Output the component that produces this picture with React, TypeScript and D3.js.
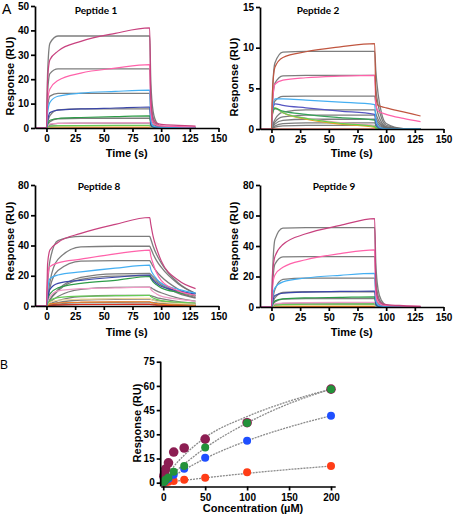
import React, { useEffect, useRef } from "react";
import * as d3 from "d3";

// sampling times (s) shared by every sensorgram trace
const times = [-10, 0, 1, 3, 10, 30, 60, 90, 91, 93, 96, 100, 115, 130];
const timeTicks = [0, 25, 50, 75, 100, 125, 150];

// trace colours, highest concentration first (200 µM down to 0)
const traceColors = ["#c8427f", "#ff62aa", "#45aff2", "#3a46a8", "#2e9c48", "#ee9cc6", "#66cc55", "#efd79c", "#f07e22", "#e0301e"];
const pep2Colors = ["#c0553f", "#ff62aa", "#45aff2", "#5656c2", "#38a25a", "#62d24e", "#f29ac0", "#f0a024", "#e0301e"];

// Peptide 1 measured responses (RU) at each sampling time
const p1Traces = [
  [0, 0, 20, 28, 31.5, 35.5, 38.8, 41, 12, 3.5, 2, 1.5, 1.1, 0.8],
  [0, 0, 11, 16, 19.5, 22.5, 24.5, 26, 7, 2, 1.2, 0.9, 0.6, 0.5],
  [0, 0, 6, 10.5, 13, 14.3, 15, 15.5, 3, 0.8, 0.4, 0.25, 0.15, 0.1],
  [0, 0, 3, 6.3, 7.3, 7.8, 8.2, 8.6, 1.5, 0.5, 0.2, 0.1, 0.05, 0],
  [0, 0, 1.5, 3.2, 3.9, 4.3, 4.7, 5, 1, 0.3, 0.1, 0.05, 0, 0],
  [0, 0, 0.8, 1.7, 1.9, 2, 2.1, 2.2, 0.5, 0.2, 0.1, 0, 0, 0],
  [0, 0, 0.4, 0.8, 0.95, 1, 1.05, 1.1, 0.3, 0.1, 0, 0, 0, 0],
  [0, 0, 0.2, 0.4, 0.5, 0.55, 0.6, 0.6, 0.1, 0, 0, 0, 0, 0],
  [0, 0, 0.1, 0.2, 0.25, 0.3, 0.3, 0.3, 0.05, 0, 0, 0, 0, 0],
  [0, 0, 0, 0.05, 0.1, 0.1, 0.1, 0.1, 0, 0, 0, 0, 0, 0],
];
// fitted plateau levels and the fit profile each one follows
const p1Fits = [37.7, 24.2, 14.2, 7.8, 4.0, 2.0, 1.0, 0.5];
const p1FitShape = [0, 0, 0, 1, 1, 1, 1, 1];
const p1Profiles = [
  [0, 0, 0.6, 0.92, 1, 1, 1, 1, 0.5, 0.18, 0.06, 0.02, 0.002, 0],
  [0, 0, 0.3, 0.65, 0.95, 1, 1, 1, 0.6, 0.25, 0.09, 0.03, 0.003, 0],
];

const p2Traces = [
  [0, 0, 5, 7.6, 8.8, 9.5, 10.1, 10.5, 4, 2.9, 2.75, 2.6, 2.1, 1.6],
  [0, 0, 3.5, 5.5, 6.0, 6.3, 6.5, 6.6, 3, 2.2, 2.0, 1.8, 1.3, 0.9],
  [0, 0, 2.5, 3.7, 3.7, 3.55, 3.3, 3.0, 1.2, 0.4, 0.1, 0.03, 0, 0],
  [0, 0, 2.3, 3.1, 2.9, 2.6, 2.2, 1.8, 0.7, 0.2, 0.05, 0, 0, 0],
  [0, 0, 2, 2.5, 2.2, 1.8, 1.4, 1.1, 0.4, 0.1, 0, 0, 0, 0],
  [0, 0, 2, 2.6, 2.0, 1.3, 0.7, 0.3, 0.1, 0, 0, 0, 0, 0],
  [0, 0, 2, 2.5, 2.0, 1.35, 0.8, 0.4, 0.1, 0, 0, 0, 0, 0],
  [0, 0, 2, 2.6, 2.0, 1.2, 0.6, 0.2, 0.05, 0, 0, 0, 0, 0],
  [0, 0, 0, 0, 0, 0, 0, 0, 0, 0, 0, 0, 0, 0],
];
const p2Fits = [9.55, 6.6, 4.05, 2.35, 1.7, 1.2, 0.75, 0.45];
const p2FitShape = [0, 0, 0, 1, 1, 1, 1, 1];
const p2Profiles = [
  [0, 0, 0.5, 0.85, 0.99, 1, 1, 1, 0.75, 0.45, 0.2, 0.07, 0.005, 0],
  [0, 0, 0.2, 0.5, 0.88, 1, 1, 1, 0.8, 0.5, 0.25, 0.1, 0.01, 0],
];

const p8Traces = [
  [0, 0, 28, 37, 42, 48, 54, 58.5, 54, 46, 38, 30, 17, 11.5],
  [0, 0, 18, 26, 28.5, 31, 34.5, 37, 33, 28, 22, 17, 10, 7],
  [0, 0, 10, 18, 20.5, 22.5, 25, 27, 24, 21, 18, 15, 11, 8.5],
  [0, 0, 5, 11, 15, 17, 19, 20.5, 19, 17, 15, 13, 10, 8],
  [0, 0, 4, 8, 12, 15, 17, 19.5, 18, 16, 14, 12, 9, 7],
  [0, 0, 3, 6, 10, 11.5, 12, 12.5, 11, 9.5, 8, 6.5, 4.5, 3],
  [0, 0, 1.5, 3.5, 5.5, 6.5, 6.8, 7, 6.2, 5.3, 4.4, 3.5, 2.5, 2],
  [0, 0, 1, 2.5, 3.8, 4.5, 4.8, 5, 4.4, 3.8, 3.1, 2.5, 1.8, 1.3],
  [0, 0, 0.5, 1.2, 2, 2.5, 2.7, 2.8, 2.4, 2, 1.6, 1.2, 0.7, 0.4],
  [0, 0, 0.2, 0.5, 0.8, 1, 1, 1.1, 0.9, 0.8, 0.6, 0.5, 0.3, 0.2],
];
const p8Fits = [46, 39.5, 30, 21.5, 20, 12.5, 7, 4.5, 2.5, 1.2];
const p8FitShape = [0, 1, 1, 2, 2, 2, 2, 2, 2, 2];
const p8Profiles = [
  [0, 0, 0.3, 0.65, 0.94, 1, 1, 1, 0.96, 0.86, 0.74, 0.62, 0.33, 0.18],
  [0, 0, 0.15, 0.4, 0.78, 0.99, 1, 1, 0.96, 0.87, 0.76, 0.65, 0.37, 0.21],
  [0, 0, 0.07, 0.2, 0.5, 0.88, 0.99, 1, 0.97, 0.9, 0.8, 0.7, 0.42, 0.26],
];

const p9Traces = [
  [0, 0, 22, 33, 41, 48, 53.5, 58, 14, 5, 2.5, 1.6, 0.9, 0.5],
  [0, 0, 14, 21, 26, 31, 35, 37.5, 8, 3, 1.5, 1, 0.6, 0.4],
  [0, 0, 7, 12.5, 16.5, 19, 20.8, 22, 4, 1.2, 0.6, 0.3, 0.15, 0.1],
  [0, 0, 3.5, 7.5, 9, 9.8, 10.2, 10.5, 2, 0.5, 0.2, 0.1, 0, 0],
  [0, 0, 1.5, 4, 5.3, 6, 6.3, 6.6, 1.3, 0.4, 0.1, 0, 0, 0],
  [0, 0, 0.8, 2, 2.6, 2.9, 3, 3.1, 0.6, 0.2, 0, 0, 0, 0],
  [0, 0, 0.5, 1.2, 1.6, 1.8, 1.9, 2, 0.4, 0.1, 0, 0, 0, 0],
  [0, 0, 0.3, 0.7, 0.9, 1, 1.1, 1.1, 0.2, 0, 0, 0, 0, 0],
  [0, 0, 0.1, 0.3, 0.4, 0.4, 0.45, 0.5, 0.1, 0, 0, 0, 0, 0],
  [0, 0, 0, 0.1, 0.15, 0.2, 0.2, 0.2, 0, 0, 0, 0, 0, 0],
];
const p9Fits = [52, 33, 19, 10, 5.5, 2.5, 1.3];
const p9FitShape = [0, 0, 1, 1, 1, 1, 1];
const p9Profiles = [
  [0, 0, 0.45, 0.85, 0.995, 1, 1, 1, 0.55, 0.22, 0.08, 0.025, 0.003, 0],
  [0, 0, 0.25, 0.6, 0.95, 1, 1, 1, 0.6, 0.27, 0.1, 0.03, 0.004, 0],
];

// steady-state responses (RU) against concentration (µM)
const bConc = [0.78, 1.56, 3.125, 6.25, 12.5, 25, 50, 100, 200];
const pep8Resp = [4, 5.5, 8.5, 12.3, 19, 21.5, 27, 37.2, 58];
const pep9Resp = [0.5, 1.1, 2, 3.2, 6.8, 10.4, 21.8, 37, 58];
const pep1Resp = [0.4, 0.8, 1.5, 2.4, 5, 8.6, 15.5, 26, 41.5];
const pep2Resp = [0.1, 0.2, 0.3, 0.6, 1.1, 1.8, 3.1, 6.4, 10.3];

// fitted binding curves
const fitConc = [0, 12.5, 25, 50, 100, 150, 200];
const pep8Fit = [0, 10, 17, 28, 41, 50.5, 58];
const pep9Fit = [0, 6, 11.5, 21.5, 37, 49, 58];
const pep1Fit = [0, 4.2, 8, 15, 26, 34.5, 41.5];
const pep2Fit = [0, 0.8, 1.5, 3, 5.8, 8.2, 10.3];

const concTicks = [0, 50, 100, 150, 200];
const respTicksB = [0, 15, 30, 45, 60, 75];

const FONT = "'Liberation Sans', Arial, sans-serif";
const TITLE_FONT = "Lato, 'Open Sans', sans-serif";

const panels = [
  { title: "Peptide 1", yMax: 50, yStep: 10, traces: p1Traces, fits: p1Fits, fitShape: p1FitShape, profiles: p1Profiles, colors: traceColors,
    left: 35, right: 218.5, top: 6, bottom: 128, titleX: 96, titleY: 13.5, yLabelX: 9.5, yLabelY: 76, xLabelY: 157 },
  { title: "Peptide 2", yMax: 15, yStep: 5, traces: p2Traces, fits: p2Fits, fitShape: p2FitShape, profiles: p2Profiles, colors: pep2Colors,
    left: 260, right: 443.5, top: 7, bottom: 129, titleX: 318, titleY: 13.5, yLabelX: 234, yLabelY: 77, xLabelY: 157 },
  { title: "Peptide 8", yMax: 80, yStep: 20, traces: p8Traces, fits: p8Fits, fitShape: p8FitShape, profiles: p8Profiles, colors: traceColors,
    left: 35, right: 218.5, top: 185, bottom: 306, titleX: 99, titleY: 190, yLabelX: 9.5, yLabelY: 241, xLabelY: 336 },
  { title: "Peptide 9", yMax: 80, yStep: 20, traces: p9Traces, fits: p9Fits, fitShape: p9FitShape, profiles: p9Profiles, colors: traceColors,
    left: 260, right: 443.5, top: 185, bottom: 307, titleX: 334, titleY: 190, yLabelX: 234, yLabelY: 241, xLabelY: 336 },
];

let styleAxis = (g: any) => {
  g.select(".domain").attr("stroke", "#000").attr("stroke-width", 1.7);
  g.selectAll(".tick line").attr("stroke", "#000").attr("stroke-width", 1.7);
  g.selectAll(".tick text")
    .attr("font-family", FONT)
    .attr("font-weight", "bold")
    .attr("font-size", 10)
    .attr("fill", "#000");
};

let yTitle = (svg: any, x: number, y: number, text: string) => {
  svg
    .append("text")
    .attr("transform", "translate(" + x + "," + y + ") rotate(-90)")
    .attr("text-anchor", "middle")
    .attr("dominant-baseline", "central")
    .attr("font-family", FONT)
    .attr("font-weight", "bold")
    .attr("font-size", 11)
    .text(text);
};

let drawSensorgram = (svg: any, p: any) => {
  const x = d3.scaleLinear().domain([-10, 150]).range([p.left, p.right]);
  const y = d3.scaleLinear().domain([0, p.yMax]).range([p.bottom, p.top]);
  const line = d3
    .line<number>()
    .x((_, i) => x(times[i]))
    .y((d) => y(d))
    .curve(d3.curveMonotoneX);

  const g = svg.append("g");

  // fitted curves
  p.fits.forEach((level: number, k: number) => {
    const profile = p.profiles[p.fitShape[k]];
    g.append("path")
      .attr("d", line(profile.map((f: number) => f * level)))
      .attr("fill", "none")
      .attr("stroke", "#6f6f6f")
      .attr("stroke-opacity", 0.9)
      .attr("stroke-width", 1.3);
  });

  // measured traces, lowest concentration drawn first
  p.traces
    .map((t: number[], i: number) => ({ t, c: p.colors[i] }))
    .reverse()
    .forEach((d: any) => {
      g.append("path")
        .attr("d", line(d.t))
        .attr("fill", "none")
        .attr("stroke", d.c)
        .attr("stroke-width", 1.2)
        .attr("stroke-linejoin", "round");
    });

  const xAxis = d3.axisBottom(x).tickValues(timeTicks).tickSize(4).tickSizeOuter(0).tickPadding(3);
  svg
    .append("g")
    .attr("transform", "translate(0," + p.bottom + ")")
    .call(xAxis)
    .call(styleAxis);

  const yAxis = d3
    .axisLeft(y)
    .tickValues(d3.range(0, p.yMax + 0.01, p.yStep))
    .tickSize(4)
    .tickSizeOuter(0)
    .tickPadding(2);
  svg
    .append("g")
    .attr("transform", "translate(" + p.left + ",0)")
    .call(yAxis)
    .call(styleAxis);

  svg
    .append("text")
    .attr("x", (p.left + p.right) / 2)
    .attr("y", p.xLabelY)
    .attr("text-anchor", "middle")
    .attr("font-family", FONT)
    .attr("font-weight", "bold")
    .attr("font-size", 11)
    .text("Time (s)");

  yTitle(svg, p.yLabelX, p.yLabelY, "Response (RU)");

  svg
    .append("text")
    .attr("x", p.titleX)
    .attr("y", p.titleY)
    .attr("text-anchor", "middle")
    .attr("font-family", TITLE_FONT)
    .attr("font-weight", "bold")
    .attr("font-size", 10)
    .text(p.title);
};

let drawBinding = (svg: any) => {
  const axisY = 486.5;
  const x = d3.scaleLinear().domain([-3, 205]).range([160.7, 335.2]);
  const y = d3.scaleLinear().domain([0, 75]).range([482.7, 361.7]);

  const fitLine = d3
    .line<number>()
    .x((_, i) => x(fitConc[i]))
    .y((d) => y(d))
    .curve(d3.curveMonotoneX);

  [pep8Fit, pep9Fit, pep1Fit, pep2Fit].forEach((f) => {
    svg
      .append("path")
      .attr("d", fitLine(f))
      .attr("fill", "none")
      .attr("stroke", "#8a8a8a")
      .attr("stroke-width", 1.3)
      .attr("stroke-dasharray", "2 1");
  });

  const series = [
    { values: pep2Resp, color: "#ff3d17", r: 4 },
    { values: pep1Resp, color: "#1f4fff", r: 4 },
    { values: pep8Resp, color: "#8c1d52", r: 4.8 },
    { values: pep9Resp, color: "#23923a", r: 4 },
  ];
  series.forEach((s) => {
    svg
      .append("g")
      .selectAll("circle")
      .data(s.values)
      .enter()
      .append("circle")
      .attr("cx", (_: number, i: number) => x(bConc[i]))
      .attr("cy", (d: number) => y(d))
      .attr("r", s.r)
      .attr("fill", s.color);
  });

  const xAxis = d3.axisBottom(x).tickValues(concTicks).tickSize(4).tickSizeOuter(0).tickPadding(3);
  svg
    .append("g")
    .attr("transform", "translate(0," + axisY + ")")
    .call(xAxis)
    .call(styleAxis);

  const yAxis = d3.axisLeft(y).tickValues(respTicksB).tickSize(4).tickSizeOuter(0).tickPadding(2);
  const gy = svg
    .append("g")
    .attr("transform", "translate(160.7,0)")
    .call(yAxis)
    .call(styleAxis);
  gy.select(".domain").attr("d", "M0," + axisY + "V" + y(75));

  svg
    .append("text")
    .attr("x", 253)
    .attr("y", 512)
    .attr("text-anchor", "middle")
    .attr("font-family", FONT)
    .attr("font-weight", "bold")
    .attr("font-size", 11)
    .text("Concentration (µM)");

  yTitle(svg, 137, 423, "Response (RU)");
};

const App = () => {
  const ref = useRef<SVGSVGElement>(null);

  useEffect(() => {
    const svg = d3.select(ref.current);
    svg.selectAll("*").remove();

    panels.forEach((p) => drawSensorgram(svg, p));
    drawBinding(svg);

    svg.append("text").attr("x", 2).attr("y", 13.5).attr("font-family", FONT).attr("font-size", 14).text("A");
    svg.append("text").attr("x", 0).attr("y", 368.5).attr("font-family", FONT).attr("font-size", 12).text("B");
  }, []);

  return (
    <svg
      ref={ref}
      width={453}
      height={517}
      style={{ position: "absolute", left: 0, top: 0, background: "#fff" }}
    />
  );
};

export default App;
